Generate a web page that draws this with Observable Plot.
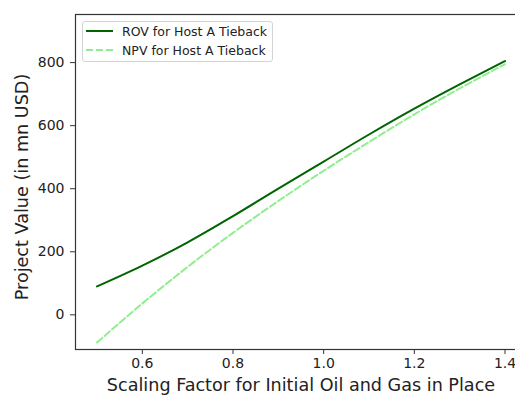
<!DOCTYPE html>
<html><head><meta charset="utf-8">
<script src="https://cdn.jsdelivr.net/npm/d3@7"></script>
<script src="https://cdn.jsdelivr.net/npm/@observablehq/plot@0.6"></script>
<style>
html,body{margin:0;padding:0;background:#fff;overflow:hidden;}
#wrap{position:relative;width:515px;height:395px;overflow:hidden;}
#wrap > svg{max-width:none !important;display:block;}
.legend{position:absolute;left:82px;top:21px;width:191px;height:41px;border:1px solid #d4d4d4;border-radius:3px;background:rgba(255,255,255,0.8);font-family:"DejaVu Sans";font-size:12.5px;color:#222;box-sizing:border-box;}
.legend .row{position:absolute;left:0;height:16px;display:flex;align-items:center;white-space:nowrap;}
.legend svg{margin-left:3px;margin-right:9px;}
</style></head><body><div id="wrap"></div>
<script>
const scaling = [0.5, 0.6, 0.7, 0.8, 0.9, 1.0, 1.1, 1.2, 1.3, 1.4];
const rovValues = [90, 156, 230, 313, 400, 486, 572, 654, 731, 805];
const npvValues = [-88, 36, 152, 260, 361, 457, 548, 636, 718, 795];
const seriesNames = ["ROV for Host A Tieback", "NPV for Host A Tieback"];
const seriesColors = ["darkgreen", "lightgreen"];
const xTicks = [0.6, 0.8, 1.0, 1.2, 1.4];
const yTicks = [0, 200, 400, 600, 800];
const xLabel = "Scaling Factor for Initial Oil and Gas in Place";
const yLabel = "Project Value (in mn USD)";

const rov = scaling.map((s, i) => ({s, v: rovValues[i]}));
const npv = scaling.map((s, i) => ({s, v: npvValues[i]}));

const chart = Plot.plot({
  width: 530, height: 395,
  marginLeft: 75, marginRight: 4, marginTop: 14, marginBottom: 46,
  style: {fontFamily: "DejaVu Sans", color: "#222", background: "white", overflow: "visible"},
  x: {domain: [0.4526, 1.4474]},
  y: {domain: [-110, 952.6]},
  marks: [
    Plot.frame({stroke: "#333", strokeWidth: 1.2}),
    Plot.axisX({ticks: xTicks, tickSize: 5, tickPadding: 4, fontSize: 14, label: null, tickFormat: d3.format(".1f"), stroke: "#333"}),
    Plot.axisY({ticks: yTicks, tickSize: 5, tickPadding: 6, fontSize: 14, label: null, stroke: "#333"}),
    Plot.line(rov, {x: "s", y: "v", stroke: seriesColors[0], strokeWidth: 2, curve: "monotone-x"}),
    Plot.line(npv, {x: "s", y: "v", stroke: seriesColors[1], strokeWidth: 2, strokeDasharray: "7,3", curve: "monotone-x"}),
    Plot.text([xLabel], {frameAnchor: "bottom", lineAnchor: "middle", textAnchor: "middle", dy: 36, fontSize: 17.6}),
    Plot.text([yLabel], {frameAnchor: "left", lineAnchor: "middle", textAnchor: "middle", dx: -53, dy: 5, rotate: -90, fontSize: 17.6})
  ]
});
const wrap = document.getElementById("wrap");
wrap.appendChild(chart);

const legend = document.createElement("div");
legend.className = "legend";
seriesNames.forEach((name, i) => {
  const row = document.createElement("div");
  row.className = "row";
  row.style.top = (i === 0 ? 1 : 20) + "px";
  row.innerHTML = `<svg width="27" height="6"><line x1="0" y1="3" x2="27" y2="3" stroke="${seriesColors[i]}" stroke-width="2" ${i === 1 ? 'stroke-dasharray="7,3"' : ''}/></svg><span>${name}</span>`;
  legend.appendChild(row);
});
wrap.appendChild(legend);
</script>
</body></html>
